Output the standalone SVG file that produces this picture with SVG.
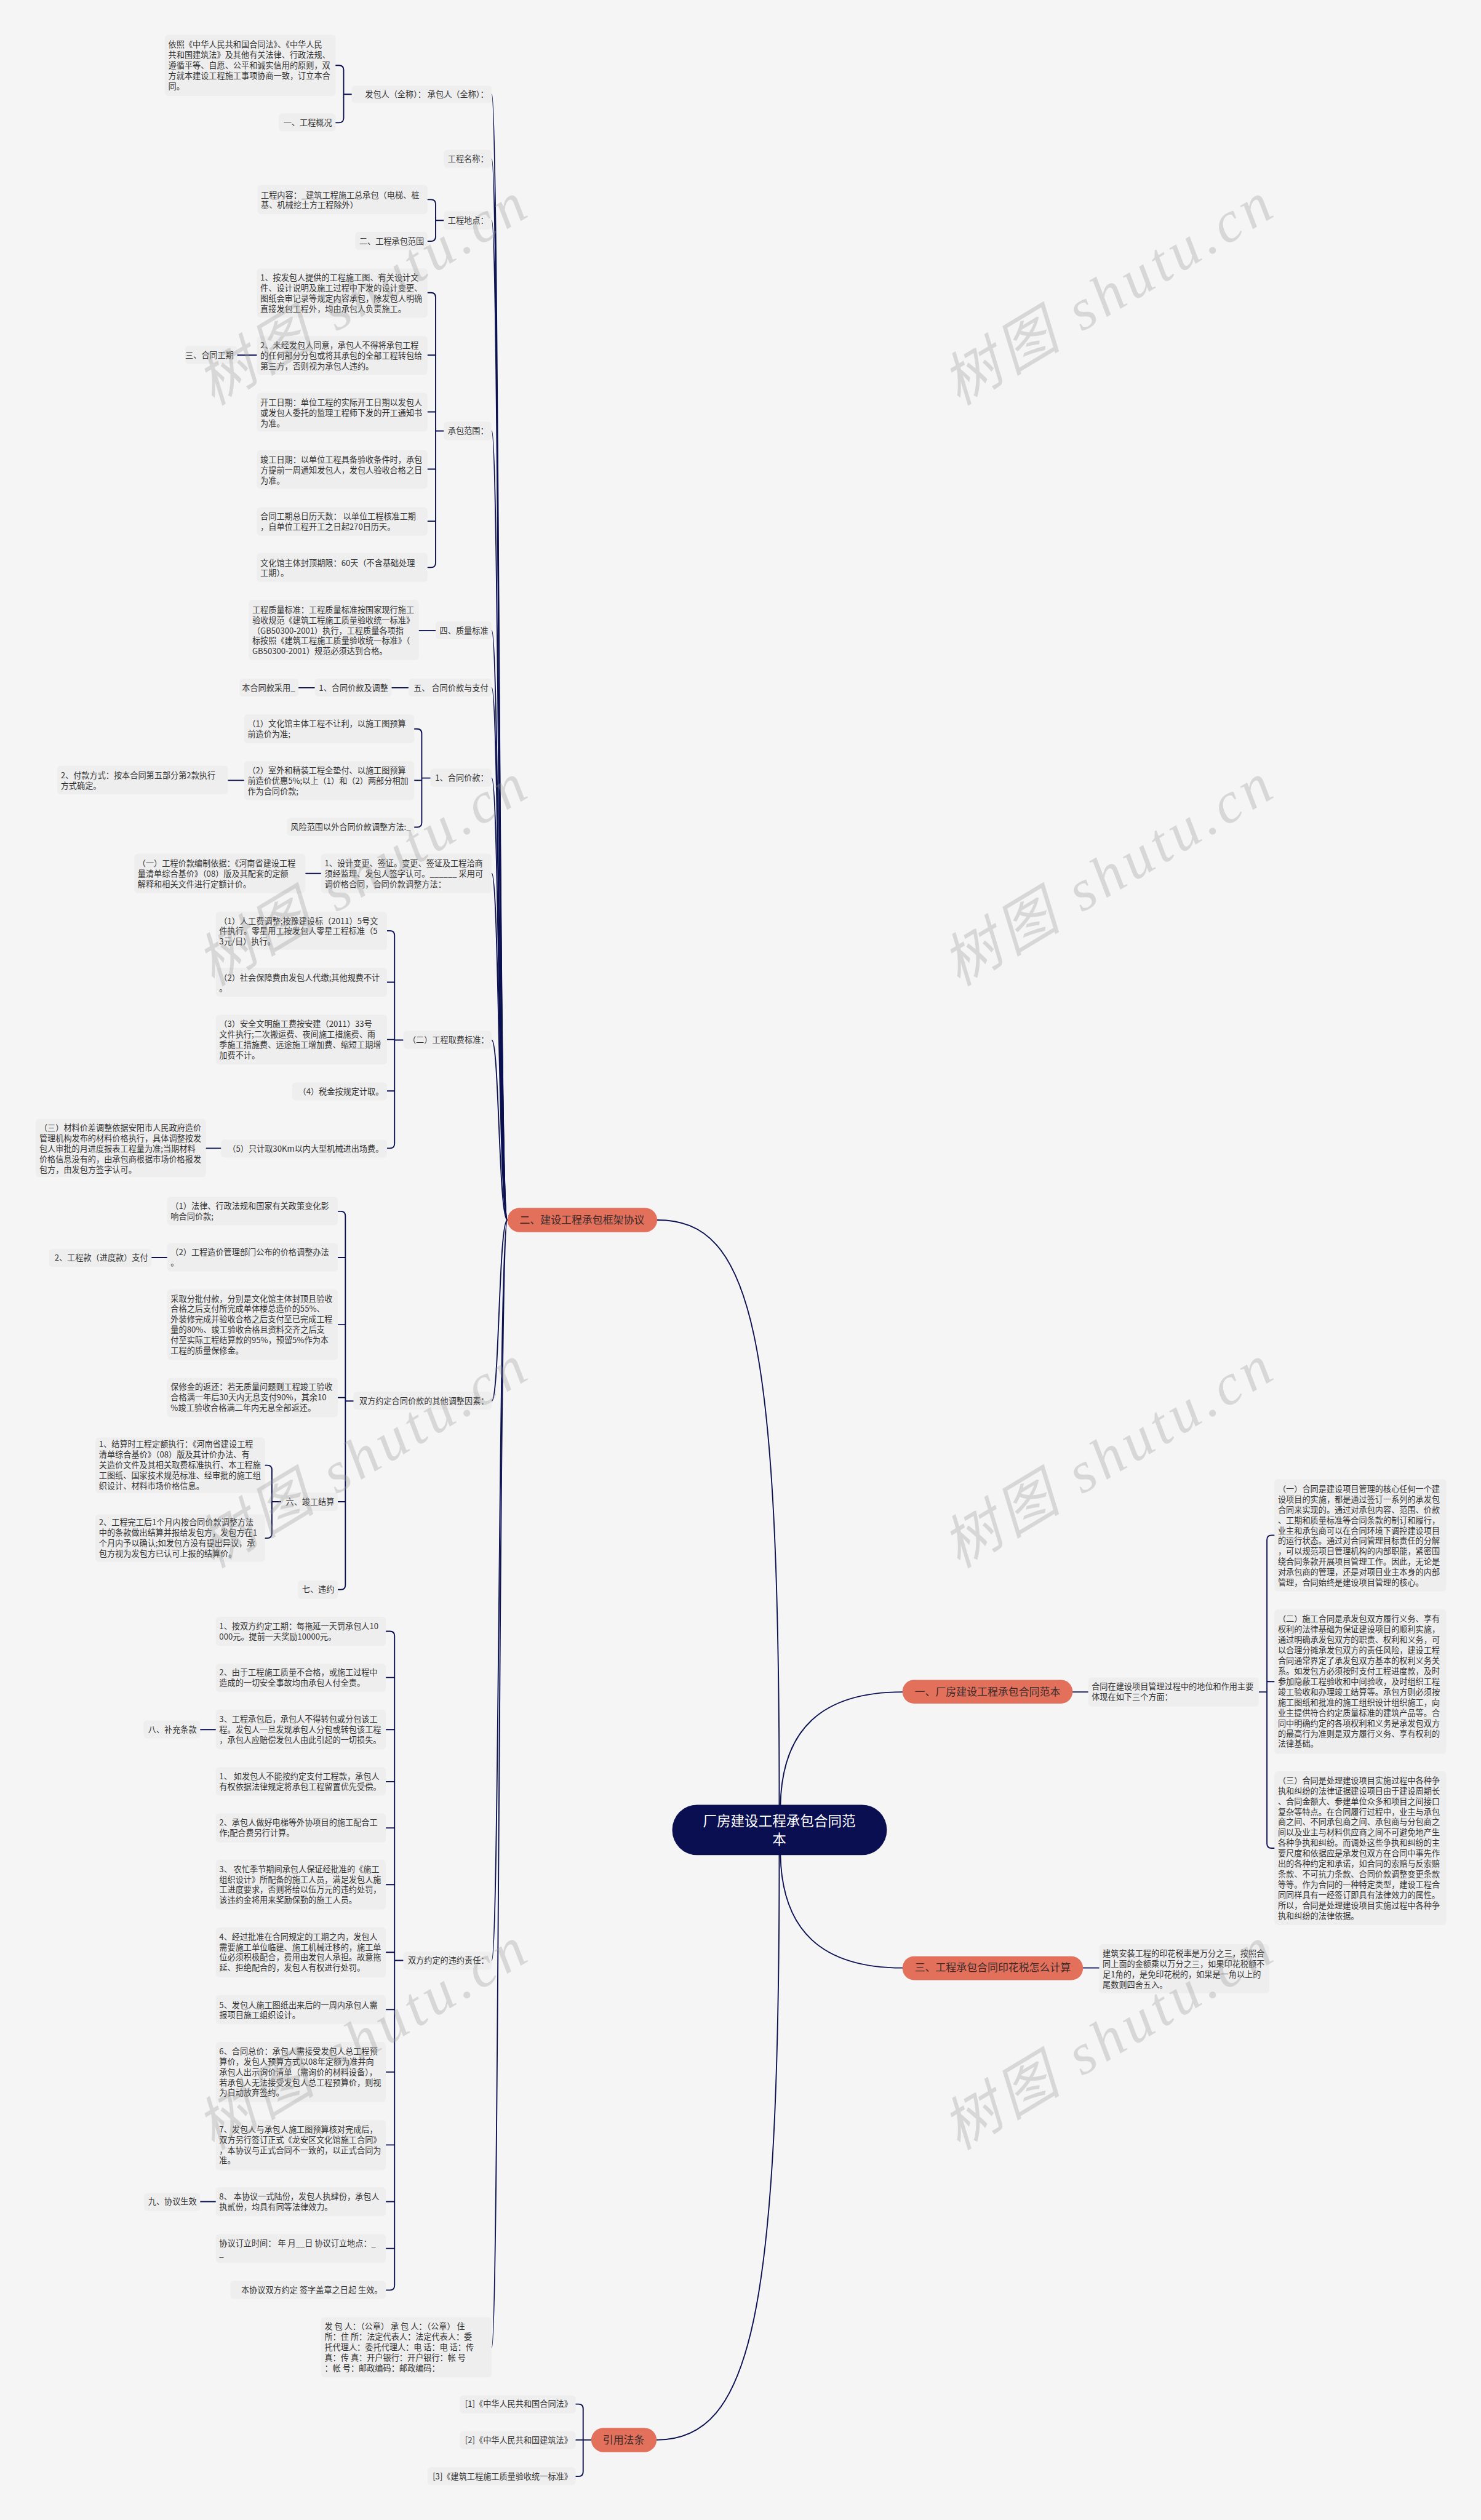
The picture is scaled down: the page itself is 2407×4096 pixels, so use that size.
<svg xmlns="http://www.w3.org/2000/svg" width="2407" height="4096" viewBox="0 0 2407 4096">
<style>
.bx{fill:#eeeeee}
.t{font-family:"Noto Sans CJK SC","Noto Sans",sans-serif;font-size:14px;fill:#333333}
.e{text-anchor:end}
.on{fill:#e2705b}
.ot{font-family:"Noto Sans CJK SC","Noto Sans",sans-serif;font-size:18px;fill:#3b2b2b;text-anchor:middle}
.rt{font-family:"Noto Sans CJK SC","Noto Sans",sans-serif;font-size:24px;fill:#ffffff;text-anchor:middle}
.ln{fill:none;stroke:#0b1150;stroke-width:2;stroke-linecap:round}
.wm{font-family:"Liberation Serif","Noto Sans CJK SC",serif;font-style:italic;font-size:100px;fill:#999999;fill-opacity:0.32}
</style>
<rect x="0" y="0" width="2407" height="4096" fill="#f5f5f5"/>
<g transform="scale(0.94023)">
<g id="connectors">
<path class="ln" d="M877,2109 C862,2109 863,163 850,163"/>
<path class="ln" d="M877,2109 C862,2109 863,275 850,275"/>
<path class="ln" d="M877,2109 C862,2109 863,381 850,381"/>
<path class="ln" d="M877,2109 C862,2109 863,745 850,745"/>
<path class="ln" d="M877,2109 C862,2109 863,1090 850,1090"/>
<path class="ln" d="M877,2109 C862,2109 863,1189 850,1189"/>
<path class="ln" d="M877,2109 C862,2109 863,1345 850,1345"/>
<path class="ln" d="M877,2109 C862,2109 863,1510 850,1510"/>
<path class="ln" d="M877,2109 C862,2109 863,1798 850,1798"/>
<path class="ln" d="M877,2109 C862,2109 863,2422 850,2422"/>
<path class="ln" d="M877,2109 C862,2109 863,3389 850,3389"/>
<path class="ln" d="M877,2109 C862,2109 863,4058 850,4058"/>
<path class="ln" d="M1347,3120 C1347,2300 1300,2109 1136,2109"/>
<path class="ln" d="M1349,3120 C1352,2990 1420,2925 1560,2925"/>
<path class="ln" d="M1349,3207 C1352,3337 1420,3402 1560,3402"/>
<path class="ln" d="M1347,3207 C1347,4000 1300,4218 1135,4218"/>
<path class="ln" d="M1854,2925 H1881 M1872,3402 H1900"/>
<path class="ln" d="M2176,2925 H2190 M2203,2654 H2198 Q2190,2654 2190,2662 V3187 Q2190,3195 2198,3195 H2203 M2190,2907 H2203"/>
<path class="ln" d="M608,163 H594 M580,113 H586 Q594,113 594,121 V204 Q594,212 586,212 H580"/>
<path class="ln" d="M767,381 H753 M739,345 H745 Q753,345 753,353 V409 Q753,417 745,417 H739"/>
<path class="ln" d="M767,745 H753 M739,506 H745 Q753,506 753,514 V973 Q753,981 745,981 H739 M753,614 H739 M753,712 H739 M753,811 H739 M753,901 H739"/>
<path class="ln" d="M410,614 H444 M724,1090 H753 M677,1189 H706 M516,1189 H544 M394,1349 H422 M528,1510 H555 M356,1985 H382 M262,2174 H289 M346,2990 H373 M346,3806 H373"/>
<path class="ln" d="M744,1345 H729 M716,1260 H721 Q729,1260 729,1268 V1422 Q729,1430 721,1430 H716 M729,1349 H716"/>
<path class="ln" d="M697,1798 H682 M669,1609 H674 Q682,1609 682,1617 V1977 Q682,1985 674,1985 H669 M682,1698 H669 M682,1797 H669 M682,1886 H669"/>
<path class="ln" d="M611,2422 H597 M584,2094 H589 Q597,2094 597,2102 V2740 Q597,2748 589,2748 H584 M597,2174 H584 M597,2290 H584 M597,2416 H584 M597,2596 H584"/>
<path class="ln" d="M486,2596 H470 M458,2533 H462 Q470,2533 470,2541 V2651 Q470,2659 462,2659 H458"/>
<path class="ln" d="M697,3389 H682 M667,2820 H674 Q682,2820 682,2828 V3951 Q682,3959 674,3959 H667 M682,2900 H667 M682,2990 H667 M682,3080 H667 M682,3160 H667 M682,3258 H667 M682,3375 H667 M682,3474 H667 M682,3582 H667 M682,3708 H667 M682,3806 H667 M682,3887 H667"/>
<path class="ln" d="M1022,4218 H1008 M995,4156 H1000 Q1008,4156 1008,4164 V4273 Q1008,4281 1000,4281 H995 M1008,4218 H995"/>
</g>

<g id="root"><rect x="1162" y="3120" width="371" height="87" rx="43" fill="#0a0f52"/><text class="rt"><tspan x="1347" y="3157">厂房建设工程承包合同范</tspan><tspan x="1347" y="3189">本</tspan></text></g>
<g id="b2"><rect class="on" x="877" y="2088" width="259" height="42" rx="21"/><text class="ot" x="1006" y="2115">二、建设工程承包框架协议</text></g>
<g id="b1"><rect class="on" x="1560" y="2904" width="294" height="41" rx="20"/><text class="ot" x="1707" y="2931">一、厂房建设工程承包合同范本</text></g>
<g id="b3"><rect class="on" x="1560" y="3382" width="312" height="41" rx="20"/><text class="ot" x="1716" y="3408">三、工程承包合同印花税怎么计算</text></g>
<g id="b4"><rect class="on" x="1022" y="4197" width="113" height="42" rx="21"/><text class="ot" x="1078" y="4224">引用法条</text></g>

<g id="r1"><rect class="bx" x="1881" y="2900" width="295" height="50" rx="6"/><text class="t"><tspan x="1887" y="2921">合同在建设项目管理过程中的地位和作用主要</tspan><tspan x="1887" y="2939">体现在如下三个方面：</tspan></text></g>
<g id="r1a"><rect class="bx" x="2203" y="2557" width="297" height="194" rx="6"/><text class="t"><tspan x="2209" y="2579">（一）合同是建设项目管理的核心任何一个建</tspan><tspan x="2209" y="2597">设项目的实施，都是通过签订一系列的承发包</tspan><tspan x="2209" y="2615">合同来实现的。通过对承包内容、范围、价款</tspan><tspan x="2209" y="2633">、工期和质量标准等合同条款的制订和履行，</tspan><tspan x="2209" y="2651">业主和承包商可以在合同环境下调控建设项目</tspan><tspan x="2209" y="2669">的运行状态。通过对合同管理目标责任的分解</tspan><tspan x="2209" y="2687">，可以规范项目管理机构的内部职能，紧密围</tspan><tspan x="2209" y="2705">绕合同条款开展项目管理工作。因此，无论是</tspan><tspan x="2209" y="2723">对承包商的管理，还是对项目业主本身的内部</tspan><tspan x="2209" y="2741">管理，合同始终是建设项目管理的核心。</tspan></text></g>
<g id="r1b"><rect class="bx" x="2203" y="2782" width="297" height="250" rx="6"/><text class="t"><tspan x="2209" y="2804">（二）施工合同是承发包双方履行义务、享有</tspan><tspan x="2209" y="2822">权利的法律基础为保证建设项目的顺利实施，</tspan><tspan x="2209" y="2840">通过明确承发包双方的职责、权利和义务，可</tspan><tspan x="2209" y="2858">以合理分摊承发包双方的责任风险，建设工程</tspan><tspan x="2209" y="2876">合同通常界定了承发包双方基本的权利义务关</tspan><tspan x="2209" y="2894">系。如发包方必须按时支付工程进度款，及时</tspan><tspan x="2209" y="2912">参加隐蔽工程验收和中间验收，及时组织工程</tspan><tspan x="2209" y="2930">竣工验收和办理竣工结算等。承包方则必须按</tspan><tspan x="2209" y="2948">施工图纸和批准的施工组织设计组织施工，向</tspan><tspan x="2209" y="2966">业主提供符合约定质量标准的建筑产品等。合</tspan><tspan x="2209" y="2984">同中明确约定的各项权利和义务是承发包双方</tspan><tspan x="2209" y="3002">的最高行为准则是双方履行义务、享有权利的</tspan><tspan x="2209" y="3020">法律基础。</tspan></text></g>
<g id="r1c"><rect class="bx" x="2203" y="3062" width="297" height="266" rx="6"/><text class="t"><tspan x="2209" y="3083">（三）合同是处理建设项目实施过程中各种争</tspan><tspan x="2209" y="3101">执和纠纷的法律证据建设项目由于建设周期长</tspan><tspan x="2209" y="3119">、合同金额大、参建单位众多和项目之间接口</tspan><tspan x="2209" y="3137">复杂等特点。在合同履行过程中，业主与承包</tspan><tspan x="2209" y="3155">商之间、不同承包商之间、承包商与分包商之</tspan><tspan x="2209" y="3173">间以及业主与材料供应商之间不可避免地产生</tspan><tspan x="2209" y="3191">各种争执和纠纷。而调处这些争执和纠纷的主</tspan><tspan x="2209" y="3209">要尺度和依据应是承发包双方在合同中事先作</tspan><tspan x="2209" y="3227">出的各种约定和承诺，如合同的索赔与反索赔</tspan><tspan x="2209" y="3245">条款、不可抗力条款、合同价款调整变更条款</tspan><tspan x="2209" y="3263">等等。作为合同的一种特定类型，建设工程合</tspan><tspan x="2209" y="3281">同同样具有一经签订即具有法律效力的属性。</tspan><tspan x="2209" y="3299">所以，合同是处理建设项目实施过程中各种争</tspan><tspan x="2209" y="3317">执和纠纷的法律依据。</tspan></text></g>
<g id="r3"><rect class="bx" x="1900" y="3361" width="294" height="85" rx="6"/><text class="t"><tspan x="1906" y="3382">建筑安装工程的印花税率是万分之三，按照合</tspan><tspan x="1906" y="3400">同上面的金额乘以万分之三，如果印花税额不</tspan><tspan x="1906" y="3418">足1角的，是免印花税的，如果是一角以上的</tspan><tspan x="1906" y="3436">尾数则四舍五入。</tspan></text></g>

<g id="n1"><rect class="bx" x="608" y="148" width="242" height="30" rx="6"/><text class="t e" x="844" y="168">发包人（全称）： 承包人（全称）：</text></g>
<g id="n1a"><rect class="bx" x="285" y="60" width="295" height="106" rx="6"/><text class="t"><tspan x="291" y="82">依照《中华人民共和国合同法》、《中华人民</tspan><tspan x="291" y="100">共和国建筑法》及其他有关法律、行政法规、</tspan><tspan x="291" y="118">遵循平等、自愿、公平和诚实信用的原则，双</tspan><tspan x="291" y="136">方就本建设工程施工事项协商一致，订立本合</tspan><tspan x="291" y="154">同。</tspan></text></g>
<g id="n1b"><rect class="bx" x="482" y="196" width="98" height="31" rx="6"/><text class="t e" x="574" y="217">一、工程概况</text></g>
<g id="n2"><rect class="bx" x="767" y="259" width="83" height="31" rx="6"/><text class="t e" x="844" y="280">工程名称：</text></g>
<g id="n3"><rect class="bx" x="767" y="365" width="83" height="32" rx="6"/><text class="t e" x="844" y="386">工程地点：</text></g>
<g id="n3a"><rect class="bx" x="445" y="320" width="294" height="50" rx="6"/><text class="t"><tspan x="451" y="342">工程内容：_建筑工程施工总承包（电梯、桩</tspan><tspan x="451" y="360">基、机械挖土方工程除外）</tspan></text></g>
<g id="n3b"><rect class="bx" x="614" y="401" width="125" height="31" rx="6"/><text class="t e" x="733" y="422">二、工程承包范围</text></g>
<g id="n4"><rect class="bx" x="767" y="729" width="83" height="32" rx="6"/><text class="t e" x="844" y="750">承包范围：</text></g>
<g id="n4a"><rect class="bx" x="444" y="464" width="295" height="85" rx="6"/><text class="t"><tspan x="450" y="485">1、按发包人提供的工程施工图、有关设计文</tspan><tspan x="450" y="503">件、设计说明及施工过程中下发的设计变更、</tspan><tspan x="450" y="521">图纸会审记录等规定内容承包，除发包人明确</tspan><tspan x="450" y="539">直接发包工程外，均由承包人负责施工。</tspan></text></g>
<g id="n4b"><rect class="bx" x="444" y="581" width="295" height="67" rx="6"/><text class="t"><tspan x="450" y="602">2、未经发包人同意，承包人不得将承包工程</tspan><tspan x="450" y="620">的任何部分分包或将其承包的全部工程转包给</tspan><tspan x="450" y="638">第三方，否则视为承包人违约。</tspan></text></g>
<g id="n4b1"><rect class="bx" x="320" y="598" width="90" height="31" rx="6"/><text class="t e" x="404" y="619">三、合同工期</text></g>
<g id="n4c"><rect class="bx" x="444" y="679" width="295" height="67" rx="6"/><text class="t"><tspan x="450" y="701">开工日期：单位工程的实际开工日期以发包人</tspan><tspan x="450" y="719">或发包人委托的监理工程师下发的开工通知书</tspan><tspan x="450" y="737">为准。</tspan></text></g>
<g id="n4d"><rect class="bx" x="444" y="778" width="295" height="67" rx="6"/><text class="t"><tspan x="450" y="800">竣工日期：以单位工程具备验收条件时，承包</tspan><tspan x="450" y="818">方提前一周通知发包人，发包人验收合格之日</tspan><tspan x="450" y="836">为准。</tspan></text></g>
<g id="n4e"><rect class="bx" x="444" y="877" width="295" height="49" rx="6"/><text class="t"><tspan x="450" y="898">合同工期总日历天数： 以单位工程核准工期</tspan><tspan x="450" y="916">，自单位工程开工之日起270日历天。</tspan></text></g>
<g id="n4f"><rect class="bx" x="444" y="956" width="295" height="50" rx="6"/><text class="t"><tspan x="450" y="978">文化馆主体封顶期限：60天（不含基础处理</tspan><tspan x="450" y="996">工期）。</tspan></text></g>
<g id="n5"><rect class="bx" x="753" y="1074" width="97" height="31" rx="6"/><text class="t e" x="844" y="1095">四、质量标准</text></g>
<g id="n5a"><rect class="bx" x="430" y="1037" width="294" height="104" rx="6"/><text class="t"><tspan x="436" y="1059">工程质量标准：工程质量标准按国家现行施工</tspan><tspan x="436" y="1077">验收规范《建筑工程施工质量验收统一标准》</tspan><tspan x="436" y="1095">（GB50300-2001）执行，工程质量各项指</tspan><tspan x="436" y="1113">标按照《建筑工程施工质量验收统一标准》（</tspan><tspan x="436" y="1131">GB50300-2001）规范必须达到合格。</tspan></text></g>
<g id="n6"><rect class="bx" x="706" y="1173" width="144" height="31" rx="6"/><text class="t e" x="844" y="1194">五、 合同价款与支付</text></g>
<g id="n6a"><rect class="bx" x="544" y="1173" width="133" height="31" rx="6"/><text class="t e" x="671" y="1194">1、合同价款及调整</text></g>
<g id="n6b"><rect class="bx" x="414" y="1173" width="102" height="31" rx="6"/><text class="t e" x="510" y="1194">本合同款采用_</text></g>
<g id="n7"><rect class="bx" x="744" y="1329" width="106" height="31" rx="6"/><text class="t e" x="844" y="1350">1、合同价款：</text></g>
<g id="n7a"><rect class="bx" x="422" y="1235" width="294" height="50" rx="6"/><text class="t"><tspan x="428" y="1256">（1）文化馆主体工程不让利，以施工图预算</tspan><tspan x="428" y="1274">前造价为准;</tspan></text></g>
<g id="n7b"><rect class="bx" x="422" y="1316" width="294" height="67" rx="6"/><text class="t"><tspan x="428" y="1337">（2）室外和精装工程全垫付、以施工图预算</tspan><tspan x="428" y="1355">前造价优惠5%;以上（1）和（2）两部分相加</tspan><tspan x="428" y="1373">作为合同价款;</tspan></text></g>
<g id="n7b1"><rect class="bx" x="99" y="1324" width="295" height="49" rx="6"/><text class="t"><tspan x="105" y="1345">2、付款方式：按本合同第五部分第2款执行</tspan><tspan x="105" y="1363">方式确定。</tspan></text></g>
<g id="n7c"><rect class="bx" x="496" y="1414" width="220" height="31" rx="6"/><text class="t e" x="710" y="1435">风险范围以外合同价款调整方法:_</text></g>
<g id="n8"><rect class="bx" x="555" y="1476" width="295" height="68" rx="6"/><text class="t"><tspan x="561" y="1498">1、设计变更、签证。变更、签证及工程洽商</tspan><tspan x="561" y="1516">须经监理、发包人签字认可。______ 采用可</tspan><tspan x="561" y="1534">调价格合同，合同价款调整方法：</tspan></text></g>
<g id="n8a"><rect class="bx" x="232" y="1476" width="296" height="68" rx="6"/><text class="t"><tspan x="238" y="1498">（一）工程价款编制依据：《河南省建设工程</tspan><tspan x="238" y="1516">量清单综合基价》（08）版及其配套的定额</tspan><tspan x="238" y="1534">解释和相关文件进行定额计价。</tspan></text></g>
<g id="n9"><rect class="bx" x="697" y="1782" width="153" height="31" rx="6"/><text class="t e" x="845" y="1803">（二）工程取费标准：</text></g>
<g id="n9a"><rect class="bx" x="373" y="1576" width="296" height="66" rx="6"/><text class="t"><tspan x="379" y="1597">（1）人工费调整;按豫建设标（2011）5号文</tspan><tspan x="379" y="1615">件执行。零星用工按发包人零星工程标准（5</tspan><tspan x="379" y="1633">3元/日）执行。</tspan></text></g>
<g id="n9b"><rect class="bx" x="373" y="1673" width="296" height="50" rx="6"/><text class="t"><tspan x="379" y="1695">（2）社会保障费由发包人代缴;其他规费不计</tspan><tspan x="379" y="1713">。</tspan></text></g>
<g id="n9c"><rect class="bx" x="373" y="1754" width="296" height="86" rx="6"/><text class="t"><tspan x="379" y="1775">（3）安全文明施工费按安建（2011）33号</tspan><tspan x="379" y="1793">文件执行;二次搬运费、夜间施工措施费、雨</tspan><tspan x="379" y="1811">季施工措施费、远途施工增加费、缩短工期增</tspan><tspan x="379" y="1829">加费不计。</tspan></text></g>
<g id="n9d"><rect class="bx" x="505" y="1871" width="164" height="31" rx="6"/><text class="t e" x="663" y="1892">（4）税金按规定计取。</text></g>
<g id="n9e"><rect class="bx" x="382" y="1970" width="287" height="31" rx="6"/><text class="t e" x="663" y="1991">（5）只计取30Km以内大型机械进出场费。</text></g>
<g id="n9e1"><rect class="bx" x="62" y="1934" width="294" height="101" rx="6"/><text class="t"><tspan x="68" y="1955">（三）材料价差调整依据安阳市人民政府造价</tspan><tspan x="68" y="1973">管理机构发布的材料价格执行，具体调整按发</tspan><tspan x="68" y="1991">包人审批的月进度报表工程量为准;当期材料</tspan><tspan x="68" y="2009">价格信息没有的，由承包商根据市场价格报发</tspan><tspan x="68" y="2027">包方，由发包方签字认可。</tspan></text></g>
<g id="n10"><rect class="bx" x="611" y="2406" width="239" height="31" rx="6"/><text class="t e" x="845" y="2427">双方约定合同价款的其他调整因素：</text></g>
<g id="n10a"><rect class="bx" x="289" y="2069" width="295" height="49" rx="6"/><text class="t"><tspan x="295" y="2090">（1）法律、行政法规和国家有关政策变化影</tspan><tspan x="295" y="2108">响合同价款;</tspan></text></g>
<g id="n10b"><rect class="bx" x="289" y="2149" width="295" height="49" rx="6"/><text class="t"><tspan x="295" y="2170">（2）工程造价管理部门公布的价格调整办法</tspan><tspan x="295" y="2188">。</tspan></text></g>
<g id="n10b1"><rect class="bx" x="85" y="2159" width="177" height="31" rx="6"/><text class="t e" x="256" y="2179">2、工程款（进度款）支付</text></g>
<g id="n10c"><rect class="bx" x="289" y="2229" width="295" height="122" rx="6"/><text class="t"><tspan x="295" y="2250">采取分批付款，分别是文化馆主体封顶且验收</tspan><tspan x="295" y="2268">合格之后支付所完成单体楼总造价的55%、</tspan><tspan x="295" y="2286">外装修完成并验收合格之后支付至已完成工程</tspan><tspan x="295" y="2304">量的80%、竣工验收合格且资料交齐之后支</tspan><tspan x="295" y="2322">付至实际工程结算款的95%，预留5%作为本</tspan><tspan x="295" y="2340">工程的质量保修金。</tspan></text></g>
<g id="n10d"><rect class="bx" x="289" y="2382" width="295" height="68" rx="6"/><text class="t"><tspan x="295" y="2403">保修金的返还：若无质量问题则工程竣工验收</tspan><tspan x="295" y="2421">合格满一年后30天内无息支付90%，其余10</tspan><tspan x="295" y="2439">%竣工验收合格满二年内无息全部返还。</tspan></text></g>
<g id="n10e"><rect class="bx" x="486" y="2580" width="98" height="32" rx="6"/><text class="t e" x="578" y="2601">六、竣工结算</text></g>
<g id="n10e1"><rect class="bx" x="165" y="2485" width="293" height="96" rx="6"/><text class="t"><tspan x="171" y="2502">1、结算时工程定额执行：《河南省建设工程</tspan><tspan x="171" y="2520">清单综合基价》（08）版及其计价办法、有</tspan><tspan x="171" y="2538">关造价文件及其相关取费标准执行、本工程施</tspan><tspan x="171" y="2556">工图纸、国家技术规范标准、经审批的施工组</tspan><tspan x="171" y="2574">织设计、材料市场价格信息。</tspan></text></g>
<g id="n10e2"><rect class="bx" x="165" y="2618" width="293" height="82" rx="6"/><text class="t"><tspan x="171" y="2637">2、工程完工后1个月内按合同价款调整方法</tspan><tspan x="171" y="2655">中的条款做出结算并报给发包方，发包方在1</tspan><tspan x="171" y="2673">个月内予以确认;如发包方没有提出异议，承</tspan><tspan x="171" y="2691">包方视为发包方已认可上报的结算价。</tspan></text></g>
<g id="n10f"><rect class="bx" x="515" y="2732" width="69" height="32" rx="6"/><text class="t e" x="578" y="2753">七、违约</text></g>
<g id="n11"><rect class="bx" x="697" y="3374" width="153" height="31" rx="6"/><text class="t e" x="845" y="3394">双方约定的违约责任：</text></g>
<g id="n11a"><rect class="bx" x="373" y="2795" width="294" height="50" rx="6"/><text class="t"><tspan x="379" y="2816">1、按双方约定工期：每拖延一天罚承包人10</tspan><tspan x="379" y="2834">000元。提前一天奖励10000元。</tspan></text></g>
<g id="n11b"><rect class="bx" x="373" y="2876" width="294" height="49" rx="6"/><text class="t"><tspan x="379" y="2896">2、由于工程施工质量不合格，或施工过程中</tspan><tspan x="379" y="2914">造成的一切安全事故均由承包人付全责。</tspan></text></g>
<g id="n11c"><rect class="bx" x="373" y="2955" width="294" height="69" rx="6"/><text class="t"><tspan x="379" y="2977">3、工程承包后，承包人不得转包或分包该工</tspan><tspan x="379" y="2995">程。发包人一旦发现承包人分包或转包该工程</tspan><tspan x="379" y="3013">，承包人应赔偿发包人由此引起的一切损失。</tspan></text></g>
<g id="n11c1"><rect class="bx" x="248" y="2974" width="98" height="31" rx="6"/><text class="t e" x="340" y="2995">八、补充条款</text></g>
<g id="n11d"><rect class="bx" x="373" y="3055" width="294" height="49" rx="6"/><text class="t"><tspan x="379" y="3076">1、 如发包人不能按约定支付工程款，承包人</tspan><tspan x="379" y="3094">有权依据法律规定将承包工程留置优先受偿。</tspan></text></g>
<g id="n11e"><rect class="bx" x="373" y="3135" width="294" height="50" rx="6"/><text class="t"><tspan x="379" y="3156">2、承包人做好电梯等外协项目的施工配合工</tspan><tspan x="379" y="3174">作;配合费另行计算。</tspan></text></g>
<g id="n11f"><rect class="bx" x="373" y="3215" width="294" height="86" rx="6"/><text class="t"><tspan x="379" y="3236">3、 农忙季节期间承包人保证经批准的《施工</tspan><tspan x="379" y="3254">组织设计》所配备的施工人员，满足发包人施</tspan><tspan x="379" y="3272">工进度要求，否则将给以伍万元的违约处罚，</tspan><tspan x="379" y="3290">该违约金将用来奖励保勤的施工人员。</tspan></text></g>
<g id="n11g"><rect class="bx" x="373" y="3332" width="294" height="86" rx="6"/><text class="t"><tspan x="379" y="3353">4、经过批准在合同规定的工期之内，发包人</tspan><tspan x="379" y="3371">需要施工单位临建、施工机械迁移的，施工单</tspan><tspan x="379" y="3389">位必须积极配合，费用由发包人承担。故意拖</tspan><tspan x="379" y="3407">延、拒绝配合的，发包人有权进行处罚。</tspan></text></g>
<g id="n11h"><rect class="bx" x="373" y="3449" width="294" height="50" rx="6"/><text class="t"><tspan x="379" y="3471">5、发包人施工图纸出来后的一周内承包人需</tspan><tspan x="379" y="3489">报项目施工组织设计。</tspan></text></g>
<g id="n11i"><rect class="bx" x="373" y="3530" width="294" height="104" rx="6"/><text class="t"><tspan x="379" y="3551">6、合同总价：承包人需接受发包人总工程预</tspan><tspan x="379" y="3569">算价，发包人预算方式以08年定额为准并向</tspan><tspan x="379" y="3587">承包人出示询价清单（需询价的材料设备），</tspan><tspan x="379" y="3605">若承包人无法接受发包人总工程预算价，则视</tspan><tspan x="379" y="3623">为自动放弃签约。</tspan></text></g>
<g id="n11j"><rect class="bx" x="373" y="3665" width="294" height="87" rx="6"/><text class="t"><tspan x="379" y="3686">7、发包人与承包人施工图预算核对完成后，</tspan><tspan x="379" y="3704">双方另行签订正式《龙安区文化馆施工合同》</tspan><tspan x="379" y="3722">，本协议与正式合同不一致的，以正式合同为</tspan><tspan x="379" y="3740">准。</tspan></text></g>
<g id="n11k"><rect class="bx" x="373" y="3781" width="294" height="50" rx="6"/><text class="t"><tspan x="379" y="3802">8、 本协议一式陆份，发包人执肆份，承包人</tspan><tspan x="379" y="3820">执贰份，均具有同等法律效力。</tspan></text></g>
<g id="n11k1"><rect class="bx" x="249" y="3791" width="97" height="31" rx="6"/><text class="t e" x="340" y="3811">九、协议生效</text></g>
<g id="n11l"><rect class="bx" x="373" y="3862" width="294" height="50" rx="6"/><text class="t"><tspan x="379" y="3883">协议订立时间： 年 月__日 协议订立地点：_</tspan><tspan x="379" y="3901">_</tspan></text></g>
<g id="n11m"><rect class="bx" x="398" y="3943" width="269" height="31" rx="6"/><text class="t e" x="661" y="3964">本协议双方约定 签字盖章之日起 生效。</text></g>
<g id="n12"><rect class="bx" x="555" y="4006" width="295" height="104" rx="6"/><text class="t"><tspan x="561" y="4027">发 包 人：（公章） 承 包 人：（公章） 住</tspan><tspan x="561" y="4045">所：住 所：法定代表人：法定代表人：委</tspan><tspan x="561" y="4063">托代理人：委托代理人：电 话：电 话：传</tspan><tspan x="561" y="4081">真：传 真：开户银行：开户银行：帐 号</tspan><tspan x="561" y="4099">：帐 号：邮政编码：邮政编码：</tspan></text></g>
<g id="f1"><rect class="bx" x="795" y="4141" width="200" height="31" rx="6"/><text class="t e" x="989" y="4161">[1]《中华人民共和国合同法》</text></g>
<g id="f2"><rect class="bx" x="795" y="4203" width="200" height="31" rx="6"/><text class="t e" x="989" y="4223">[2]《中华人民共和国建筑法》</text></g>
<g id="f3"><rect class="bx" x="739" y="4265" width="256" height="31" rx="6"/><text class="t e" x="989" y="4286">[3]《建筑工程施工质量验收统一标准》</text></g>

<g id="watermarks">
<text class="wm" x="368" y="702" textLength="640" transform="rotate(-31 368 702)">树图 shutu.cn</text>
<text class="wm" x="368" y="1706" textLength="640" transform="rotate(-31 368 1706)">树图 shutu.cn</text>
<text class="wm" x="368" y="2712" textLength="640" transform="rotate(-31 368 2712)">树图 shutu.cn</text>
<text class="wm" x="368" y="3718" textLength="640" transform="rotate(-31 368 3718)">树图 shutu.cn</text>
<text class="wm" x="1657" y="702" textLength="640" transform="rotate(-31 1657 702)">树图 shutu.cn</text>
<text class="wm" x="1657" y="1706" textLength="640" transform="rotate(-31 1657 1706)">树图 shutu.cn</text>
<text class="wm" x="1657" y="2712" textLength="640" transform="rotate(-31 1657 2712)">树图 shutu.cn</text>
<text class="wm" x="1657" y="3718" textLength="640" transform="rotate(-31 1657 3718)">树图 shutu.cn</text>
</g>
</g>
</svg>
